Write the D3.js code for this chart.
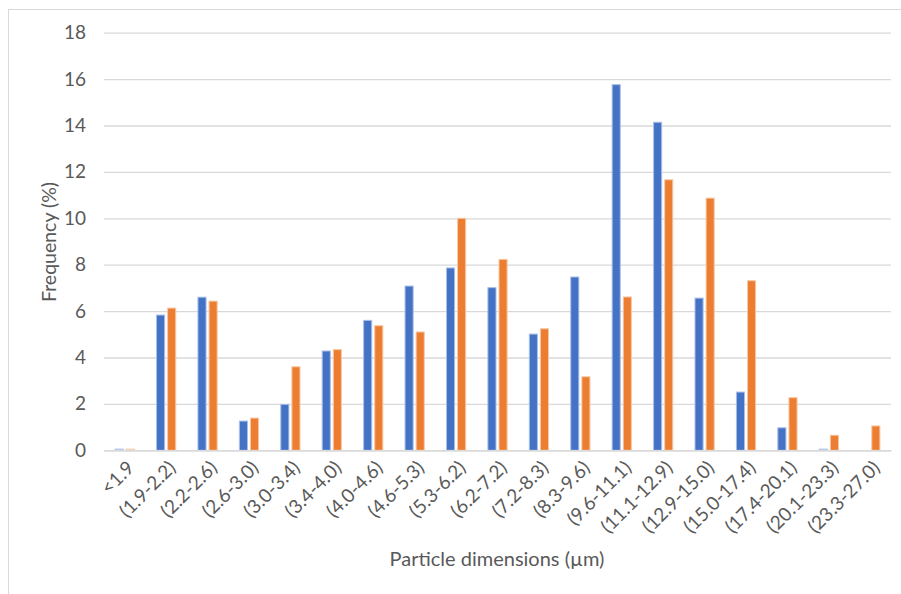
<!DOCTYPE html>
<html>
<head>
<meta charset="utf-8">
<script src="https://cdn.jsdelivr.net/npm/d3@7"></script>
<style>
  html, body { margin: 0; padding: 0; background: #fff; }
  svg { display: block; }
  text { font-family: Lato, "Open Sans", "Liberation Sans", sans-serif; fill: #595959; }
</style>
</head>
<body>
<svg id="chart" width="901" height="594"></svg>
<script>
const categories = ["<1.9", "(1.9-2.2)", "(2.2-2.6)", "(2.6-3.0)", "(3.0-3.4)", "(3.4-4.0)", "(4.0-4.6)", "(4.6-5.3)", "(5.3-6.2)", "(6.2-7.2)", "(7.2-8.3)", "(8.3-9.6)", "(9.6-11.1)", "(11.1-12.9)", "(12.9-15.0)", "(15.0-17.4)", "(17.4-20.1)", "(20.1-23.3)", "(23.3-27.0)"];
const seriesBlue = [0.05, 5.83, 6.6, 1.26, 1.98, 4.28, 5.6, 7.08, 7.86, 7.01, 5.01, 7.47, 15.76, 14.14, 6.56, 2.51, 0.97, 0.05, 0];
const seriesOrange = [0.05, 6.13, 6.43, 1.39, 3.6, 4.34, 5.37, 5.1, 10.0, 8.23, 5.24, 3.17, 6.61, 11.66, 10.87, 7.31, 2.27, 0.65, 1.05];
const yTicks = [0, 2, 4, 6, 8, 10, 12, 14, 16, 18];
const seriesNames = ["blue", "orange"];
const seriesColors = ["#4472c4", "#ed7d31"];
const seriesStrokes = ["#a9bfe8", "#f6c9a6"];

(function () {
const svg = d3.select("#chart");
const mLeft = 104, mRight = 891, mTop = 32.7, mBottom = 450.3;

svg.append("rect").attr("x", 8.5).attr("y", 9.5).attr("width", 920).attr("height", 620)
  .attr("fill", "none").attr("stroke", "#d9d9d9").attr("stroke-width", 1);

const x = d3.scaleBand().domain(categories).range([mLeft, mRight]).paddingInner(0).paddingOuter(0);
const y = d3.scaleLinear().domain([0, 18]).range([mBottom, mTop]);
const xs = d3.scaleBand().domain(seriesNames).range([0, x.bandwidth()]).paddingInner(0.27).paddingOuter(1.0);

const yAxis = d3.axisLeft(y).tickValues(yTicks).tickSize(-(mRight - mLeft)).tickPadding(18).tickFormat(d3.format("d"));
const gy = svg.append("g").attr("transform", `translate(${mLeft},0)`).call(yAxis);
gy.select(".domain").remove();
gy.selectAll(".tick line").attr("stroke", "#d9d9d9").attr("stroke-width", 1.3);
gy.selectAll(".tick text").style("font-size", "19px").attr("fill", "#595959");

const data = categories.map((c, i) => ({c, vals: [seriesBlue[i], seriesOrange[i]]}));
const groups = svg.append("g").selectAll("g").data(data).join("g")
  .attr("transform", d => `translate(${x(d.c)},0)`);
groups.selectAll("rect").data(d => d.vals.map((v, k) => ({v, k})).filter(e => e.v > 0)).join("rect")
  .attr("x", e => xs(seriesNames[e.k]))
  .attr("width", xs.bandwidth())
  .attr("y", e => y(e.v))
  .attr("height", e => y(0) - y(e.v))
  .attr("fill", e => e.v < 0.1 ? "none" : seriesColors[e.k])
  .attr("stroke", e => seriesStrokes[e.k])
  .attr("stroke-width", 1);

const xAxis = d3.axisBottom(x).tickSize(0).tickPadding(0);
const gx = svg.append("g").attr("transform", `translate(0,${mBottom})`).call(xAxis);
gx.select(".domain").attr("stroke", "#d9d9d9").attr("stroke-width", 1.5);
gx.selectAll(".tick text")
  .style("font-size", "19px")
  .attr("text-anchor", "end")
  .attr("dy", "0.35em")
  .attr("transform", "translate(6,14) rotate(-45)");

svg.append("text").attr("x", 497).attr("y", 566).attr("text-anchor", "middle")
  .style("font-size", "20px").text("Particle dimensions (µm)");
svg.append("text").attr("transform", "translate(56,242) rotate(-90)").attr("text-anchor", "middle")
  .style("font-size", "19.5px").text("Frequency (%)");
})();
</script>
</body>
</html>
